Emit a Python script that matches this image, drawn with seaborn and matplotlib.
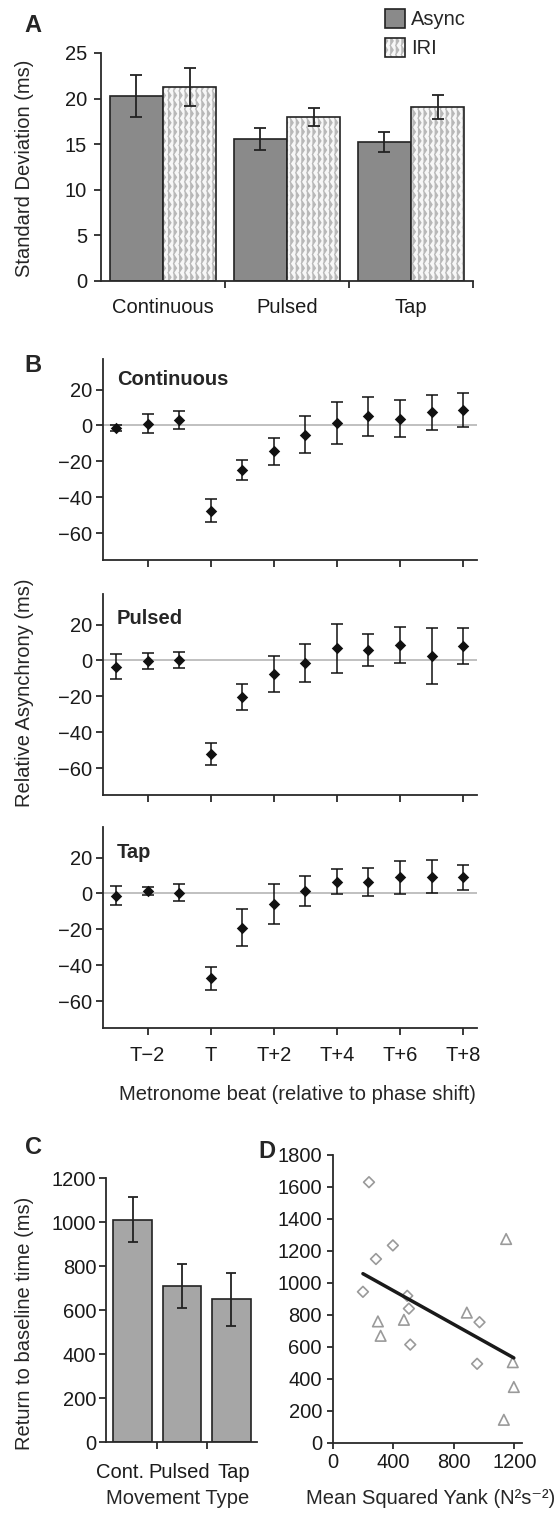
import warnings
warnings.filterwarnings("ignore")
import numpy as np
import pandas as pd
import matplotlib
matplotlib.use("Agg")
import matplotlib.pyplot as plt
import matplotlib.hatch as mhatch
import matplotlib.colors as mcolors
import matplotlib.transforms as mtransforms
from matplotlib.path import Path
from matplotlib.patches import Patch
import seaborn as sns

# ---------------- data ----------------
# Panel A
conditions = ["Continuous", "Pulsed", "Tap"]
measures = ["Async", "IRI"]
async_sd = [20.3, 15.6, 15.2]
async_err = [2.3, 1.2, 1.1]
iri_sd = [21.3, 18.0, 19.1]
iri_err = [2.1, 1.0, 1.3]

# Panel B
beats = [-3, -2, -1, 0, 1, 2, 3, 4, 5, 6, 7, 8]
beat_ticks = [-2, 0, 2, 4, 6, 8]
beat_labels = ["T\u22122", "T", "T+2", "T+4", "T+6", "T+8"]
cont_mean = [-1.4, 1.0, 3.0, -47.5, -24.8, -14.5, -5.2, 1.2, 5.0, 3.8, 7.3, 8.6]
cont_err = [1.5, 5.3, 4.8, 6.4, 5.7, 7.6, 10.2, 11.6, 10.8, 10.5, 9.8, 9.5]
puls_mean = [-3.4, -0.4, 0.1, -52.0, -20.3, -7.5, -1.6, 6.8, 5.7, 8.5, 2.5, 8.0]
puls_err = [7.0, 4.3, 4.6, 6.1, 7.3, 10.1, 10.6, 13.6, 9.0, 10.2, 15.5, 10.2]
tap_mean = [-1.2, 1.2, 0.5, -47.4, -19.1, -5.9, 1.5, 6.6, 6.2, 9.0, 9.4, 9.0]
tap_err = [5.3, 2.1, 4.9, 6.6, 10.3, 11.0, 8.3, 7.2, 7.7, 9.2, 9.0, 7.1]

# Panel C
movement_types = ["Cont.", "Pulsed", "Tap"]
return_time = [1010, 710, 648]
return_err = [103, 101, 122]

# Panel D
diamond_x = [238, 198, 284, 396, 491, 502, 511, 969, 953]
diamond_y = [1630, 945, 1150, 1235, 920, 840, 615, 755, 495]
triangle_x = [297, 315, 469, 885, 1145, 1189, 1196, 1130]
triangle_y = [760, 670, 770, 815, 1275, 505, 350, 145]


# ---------------- zigzag hatch ----------------
class _ZigZagHatch(mhatch.HatchPatternBase):
    def __init__(self, hatch, density):
        self.num_cols = int(hatch.count("z") * density)
        self.num_seg = 22
        self.num_vertices = self.num_cols * (self.num_seg + 1) if self.num_cols else 0

    def set_vertices_and_codes(self, vertices, codes):
        if not self.num_cols:
            return
        k = self.num_seg + 1
        ys = np.linspace(0, 1, k)
        amp = 0.27 / self.num_cols
        sign = np.where(np.arange(k) % 2 == 0, -1.0, 1.0)
        for i in range(self.num_cols):
            x0 = (i + 0.5) / self.num_cols
            vertices[i * k:(i + 1) * k, 0] = x0 + amp * sign
            vertices[i * k:(i + 1) * k, 1] = ys
            codes[i * k] = Path.MOVETO
            codes[i * k + 1:(i + 1) * k] = Path.LINETO


mhatch._hatch_types.append(_ZigZagHatch)

# ---------------- style ----------------
sns.set_style("ticks")
plt.rcParams["font.family"] = ["Liberation Sans", "DejaVu Sans"]
plt.rcParams["axes.linewidth"] = 1.3
plt.rcParams["axes.edgecolor"] = "#2a2a2a"
plt.rcParams["xtick.color"] = "#2a2a2a"
plt.rcParams["ytick.color"] = "#2a2a2a"
plt.rcParams["xtick.labelcolor"] = "#1a1a1a"
plt.rcParams["ytick.labelcolor"] = "#1a1a1a"
plt.rcParams["hatch.linewidth"] = 0.9

FS = 14.5
W, H = 555, 1520
fig = plt.figure(figsize=(W / 100, H / 100), dpi=100)


def add_ax(left, top, right, bottom):
    return fig.add_axes([left / W, 1 - bottom / H, (right - left) / W, (bottom - top) / H])


EDGE = "#222222"
ASYNC_C = "#8a8a8a"
IRI_FILL = "#f7f7f7"
ZIG_C = "#b8b8b8"

# ---------------- Panel A ----------------
axA = add_ax(101, 53, 473, 281)
dfA = pd.DataFrame({
    "Condition": conditions * 2,
    "Measure": [measures[0]] * 3 + [measures[1]] * 3,
    "SD": async_sd + iri_sd,
})
sns.barplot(data=dfA, x="Condition", y="SD", hue="Measure", order=conditions,
            hue_order=measures, palette={"Async": ASYNC_C, "IRI": IRI_FILL},
            width=0.86, errorbar=None, edgecolor=EDGE, linewidth=1.2,
            saturation=1, legend=False, ax=axA)
for cont, errs in zip(axA.containers, [async_err, iri_err]):
    xs = [p.get_x() + p.get_width() / 2 for p in cont]
    hs = [p.get_height() for p in cont]
    axA.errorbar(xs, hs, yerr=errs, fmt="none", ecolor=EDGE, elinewidth=1.3,
                 capsize=4, capthick=1.3, zorder=5)
for p in axA.containers[1]:
    p.set_hatch("zzz")
    p._hatch_color = mcolors.to_rgba(ZIG_C)
axA.set_xlim(-0.5, 2.5)
axA.set_ylim(0, 25)
axA.set_yticks([0, 5, 10, 15, 20, 25])
axA.set_xticks([0.5, 1.5, 2.5], minor=True)
axA.tick_params(axis="x", which="major", length=0, pad=12, labelsize=FS)
axA.tick_params(axis="x", which="minor", length=5, width=1.3, direction="out")
axA.tick_params(axis="y", length=5, width=1.3, pad=5, labelsize=FS)
axA.set_xlabel("")
axA.set_ylabel("")
sns.despine(ax=axA)

legend_handles = [
    Patch(facecolor=ASYNC_C, edgecolor=EDGE, linewidth=1.2, label="Async"),
    Patch(facecolor=IRI_FILL, edgecolor=EDGE, linewidth=1.2, hatch="zzz", label="IRI"),
]
legend_handles[1]._hatch_color = mcolors.to_rgba(ZIG_C)
fig.legend(handles=legend_handles, loc="upper left",
           bbox_to_anchor=(385 / W, 1 - 9 / H), bbox_transform=fig.transFigure,
           frameon=False, borderpad=0, borderaxespad=0, handletextpad=0.3,
           handlelength=1.0, handleheight=1.05, labelspacing=0.45, fontsize=FS)

# ---------------- Panel B ----------------
b_boxes = [(103, 359, 477, 560), (103, 594, 477, 795), (103, 827, 477, 1028)]
b_data = [("Continuous", cont_mean, cont_err, 25.6),
          ("Pulsed", puls_mean, puls_err, 23.4),
          ("Tap", tap_mean, tap_err, 23.0)]
for i, (box, (name, means, errs, ty)) in enumerate(zip(b_boxes, b_data)):
    ax = add_ax(*box)
    ax.axhline(0, color="#b5b5b5", lw=1.2, zorder=1)
    ax.errorbar(beats, means, yerr=errs, fmt="none", ecolor="#111111",
                elinewidth=1.1, capsize=4, capthick=1.1, zorder=2)
    sns.scatterplot(x=beats, y=means, marker="D", s=34, color="#111111",
                    edgecolor="#111111", linewidth=0, ax=ax, zorder=3)
    ax.set_xlim(-3.41, 8.44)
    ax.set_ylim(-75, 37)
    ax.set_yticks([-60, -40, -20, 0, 20])
    ax.set_xticks(beat_ticks)
    ax.text(-2.97, ty, name, fontsize=FS, fontweight="bold", ha="left", va="center")
    ax.tick_params(axis="y", length=5, width=1.3, pad=3, labelsize=FS)
    if i == 2:
        ax.set_xticklabels(beat_labels)
        ax.tick_params(axis="x", length=5, width=1.3, pad=8, labelsize=FS)
    else:
        ax.tick_params(axis="x", length=5, width=1.3, labelbottom=False)
    sns.despine(ax=ax)

# ---------------- Panel C ----------------
axC = add_ax(106, 1178, 257, 1442)
sns.barplot(x=movement_types, y=return_time, color="#a6a6a6", width=0.79,
            errorbar=None, edgecolor=EDGE, linewidth=1.2, saturation=1, ax=axC)
xsC = [p.get_x() + p.get_width() / 2 for p in axC.patches]
hsC = [p.get_height() for p in axC.patches]
axC.errorbar(xsC, hsC, yerr=return_err, fmt="none", ecolor=EDGE, elinewidth=1.3,
             capsize=3.5, capthick=1.3, zorder=5)
axC.set_xlim(-0.54, 2.52)
axC.set_ylim(0, 1200)
axC.set_yticks(range(0, 1201, 200))
axC.set_xticks([0.5, 1.5], minor=True)
axC.tick_params(axis="x", which="major", length=0, pad=15, labelsize=FS)
axC.tick_params(axis="x", which="minor", length=5, width=1.3, direction="out")
axC.tick_params(axis="y", length=5, width=1.3, pad=2, labelsize=FS)
# shift labels slightly as in the reference ("Cont." sits left of its bar)
shifts_px = [-13, -3, 2]
for lab, dx in zip(axC.get_xticklabels(), shifts_px):
    lab.set_transform(lab.get_transform() +
                      mtransforms.ScaledTranslation(dx / 100, 0, fig.dpi_scale_trans))
sns.despine(ax=axC)

# ---------------- Panel D ----------------
axD = add_ax(333, 1155, 522, 1443)
sns.scatterplot(x=diamond_x, y=diamond_y, marker="D", s=30, facecolor="none",
                edgecolor="#9a9a9a", linewidth=1.2, ax=axD, zorder=2)
sns.scatterplot(x=triangle_x, y=triangle_y, marker="^", s=58, facecolor="none",
                edgecolor="#9a9a9a", linewidth=1.2, ax=axD, zorder=2)
sns.regplot(x=np.array(diamond_x + triangle_x), y=np.array(diamond_y + triangle_y),
            scatter=False, ci=None, color="#1a1a1a", line_kws={"lw": 2.5},
            truncate=True, ax=axD)
axD.set_xlim(0, 1250)
axD.set_ylim(0, 1800)
axD.set_xticks([0, 400, 800, 1200])
axD.set_yticks(range(0, 1801, 200))
axD.tick_params(axis="x", length=4, width=1.3, pad=3, labelsize=FS)
axD.tick_params(axis="y", length=4, width=1.3, pad=4, labelsize=FS)
axD.set_xlabel("")
axD.set_ylabel("")
sns.despine(ax=axD)

# ---------------- figure text ----------------
def ftext(x, y, s, **kw):
    fig.text(x / W, 1 - y / H, s, ha="center", va="center", **kw)

ftext(33, 26, "A", fontsize=17, fontweight="bold")
ftext(33, 366, "B", fontsize=17, fontweight="bold")
ftext(34, 1147, "C", fontsize=17, fontweight="bold")
ftext(267, 1152, "D", fontsize=17, fontweight="bold")

ftext(25, 168, "Standard Deviation (ms)", fontsize=FS, rotation=90)
ftext(25, 693, "Relative Asynchrony (ms)", fontsize=FS, rotation=90)
ftext(25, 1323, "Return to baseline time (ms)", fontsize=FS, rotation=90)
ftext(297, 1094, "Metronome beat (relative to phase shift)", fontsize=FS)
ftext(178, 1499, "Movement Type", fontsize=FS)
ftext(431, 1499, "Mean Squared Yank (N\u00b2s\u207b\u00b2)", fontsize=FS)

fig.savefig("out.png", dpi=100)
